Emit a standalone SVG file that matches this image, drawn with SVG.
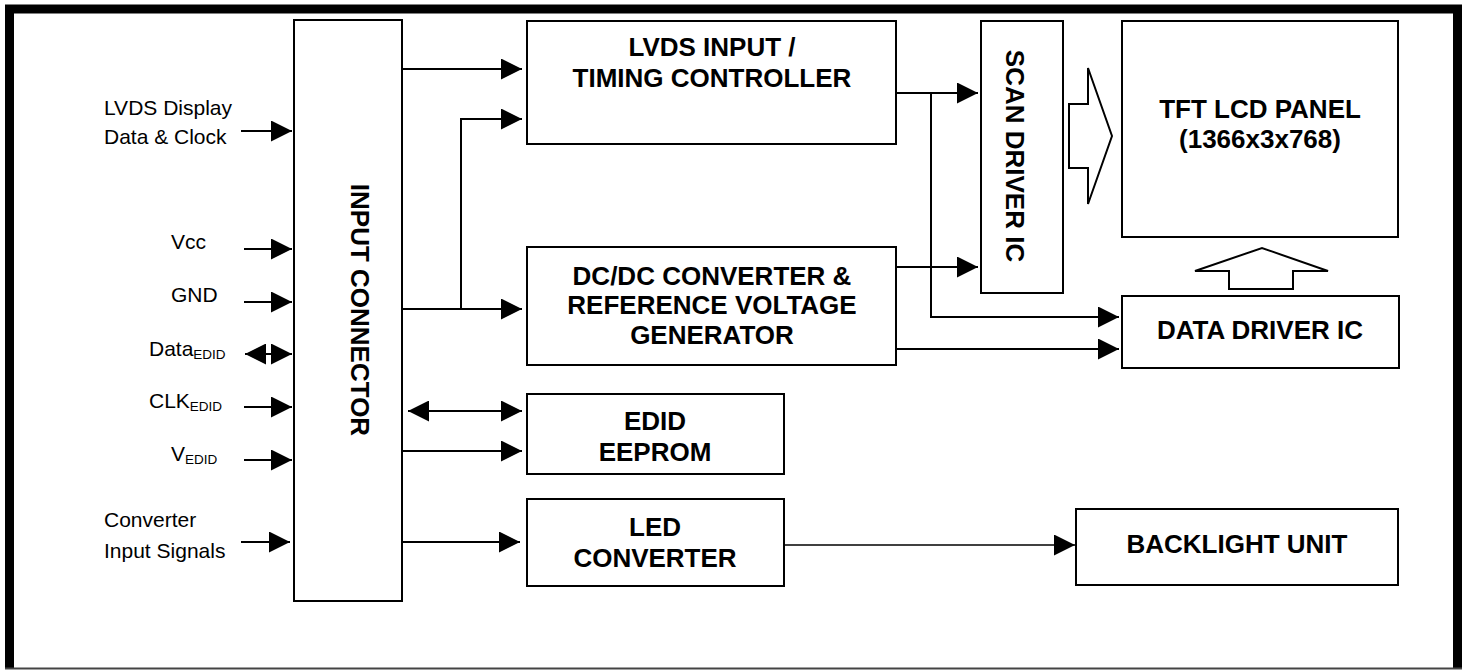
<svg xmlns="http://www.w3.org/2000/svg" width="1465" height="670" viewBox="0 0 1465 670">
<style>
.box{fill:#fff;stroke:#000;stroke-width:2}
.ln{fill:none;stroke:#000;stroke-width:2}
.thin{fill:none;stroke:#000;stroke-width:1.5}
.hol{fill:#fff;stroke:#000;stroke-width:2;stroke-linejoin:miter}
.lbl{font-family:"Liberation Sans",Arial,sans-serif;font-size:21px;fill:#000}
.sub{font-size:13.5px}
.bt{font-family:"Liberation Sans",Arial,sans-serif;font-size:26px;font-weight:bold;fill:#000;text-anchor:middle}
</style>
<defs>
<marker id="ah" markerUnits="userSpaceOnUse" markerWidth="21" markerHeight="21" refX="21" refY="10.5" orient="auto">
<path d="M0,0 L21,10.5 L0,21 Z" fill="#000"/>
</marker>
<marker id="as" markerUnits="userSpaceOnUse" markerWidth="21" markerHeight="21" refX="0" refY="10.5" orient="auto">
<path d="M21,0 L0,10.5 L21,21 Z" fill="#000"/>
</marker>
</defs>
<rect width="1465" height="670" fill="#fff"/>
<g id="frame">
<path d="M9.5,669 L9.5,9 L1457.5,9 L1457.5,669" fill="none" stroke="#000" stroke-width="9"/>
<line x1="5" y1="668.5" x2="1462" y2="668.5" stroke="#444" stroke-width="2"/>
</g>
<g id="inputs">
<text class="lbl" x="104" y="115">LVDS Display</text>
<text class="lbl" x="104" y="144">Data &amp; Clock</text>
<text class="lbl" x="171" y="249">Vcc</text>
<text class="lbl" x="171" y="302">GND</text>
<text class="lbl" x="149" y="356">Data<tspan class="sub" dy="2.5">EDID</tspan></text>
<text class="lbl" x="149" y="408">CLK<tspan class="sub" dy="2.5">EDID</tspan></text>
<text class="lbl" x="171" y="461">V<tspan class="sub" dy="2.5">EDID</tspan></text>
<text class="lbl" x="104" y="527">Converter</text>
<text class="lbl" x="104" y="558">Input Signals</text>
</g>
<g id="connectors">
<line class="ln" x1="241" y1="131" x2="292" y2="131" marker-end="url(#ah)"/>
<line class="ln" x1="244" y1="249" x2="292" y2="249" marker-end="url(#ah)"/>
<line class="ln" x1="244" y1="302" x2="292" y2="302" marker-end="url(#ah)"/>
<line class="ln" x1="245" y1="354" x2="292" y2="354" marker-start="url(#as)" marker-end="url(#ah)"/>
<line class="ln" x1="244" y1="407" x2="292" y2="407" marker-end="url(#ah)"/>
<line class="ln" x1="244" y1="460" x2="292" y2="460" marker-end="url(#ah)"/>
<line class="ln" x1="241" y1="542" x2="290" y2="542" marker-end="url(#ah)"/>
<line class="ln" x1="402" y1="69" x2="522" y2="69" marker-end="url(#ah)"/>
<line class="ln" x1="402" y1="309" x2="522" y2="309" marker-end="url(#ah)"/>
<polyline class="ln" points="461,309 461,119 522,119" marker-end="url(#ah)"/>
<line class="ln" x1="896" y1="93" x2="978" y2="93" marker-end="url(#ah)"/>
<polyline class="ln" points="931,93 931,317 1119,317" marker-end="url(#ah)"/>
<line class="ln" x1="896" y1="267" x2="978" y2="267" marker-end="url(#ah)"/>
<line class="ln" x1="896" y1="349" x2="1119" y2="349" marker-end="url(#ah)"/>
<line class="ln" x1="408" y1="411" x2="522" y2="411" marker-start="url(#as)" marker-end="url(#ah)"/>
<line class="ln" x1="402" y1="451" x2="522" y2="451" marker-end="url(#ah)"/>
<line class="ln" x1="402" y1="542" x2="520" y2="542" marker-end="url(#ah)"/>
<line class="thin" x1="784" y1="545" x2="1075" y2="545" marker-end="url(#ah)"/>
<polygon class="hol" points="1069,104 1088,104 1088,68 1112,136 1088,204 1088,168 1069,168"/>
<polygon class="hol" points="1229,289 1229,271 1195,271 1262,248 1328,271 1293,271 1293,289"/>
</g>
<g id="input-connector">
<rect class="box" x="294" y="20" width="108" height="581"/>
<text class="bt" transform="translate(351,310) rotate(90)">INPUT CONNECTOR</text>
</g>
<g id="lvds-timing">
<rect class="box" x="527" y="21" width="369" height="123"/>
<text class="bt" x="712" y="56">LVDS INPUT /</text>
<text class="bt" x="712" y="87">TIMING CONTROLLER</text>
</g>
<g id="dcdc">
<rect class="box" x="527" y="247" width="369" height="118"/>
<text class="bt" x="712" y="285">DC/DC CONVERTER &amp;</text>
<text class="bt" x="712" y="314">REFERENCE VOLTAGE</text>
<text class="bt" x="712" y="344">GENERATOR</text>
</g>
<g id="edid">
<rect class="box" x="527" y="394" width="257" height="80"/>
<text class="bt" x="655" y="430">EDID</text>
<text class="bt" x="655" y="461">EEPROM</text>
</g>
<g id="led-converter">
<rect class="box" x="527" y="499" width="257" height="87"/>
<text class="bt" x="655" y="536">LED</text>
<text class="bt" x="655" y="567">CONVERTER</text>
</g>
<g id="scan-driver">
<rect class="box" x="981" y="21" width="82" height="272"/>
<text class="bt" transform="translate(1006,156) rotate(90)">SCAN DRIVER IC</text>
</g>
<g id="tft-panel">
<rect class="box" x="1122" y="21" width="276" height="216"/>
<text class="bt" x="1260" y="118">TFT LCD PANEL</text>
<text class="bt" x="1260" y="148">(1366x3x768)</text>
</g>
<g id="data-driver">
<rect class="box" x="1122" y="296" width="277" height="72"/>
<text class="bt" x="1260" y="339">DATA DRIVER IC</text>
</g>
<g id="backlight">
<rect class="box" x="1076" y="509" width="322" height="76"/>
<text class="bt" x="1237" y="553">BACKLIGHT UNIT</text>
</g>
</svg>
